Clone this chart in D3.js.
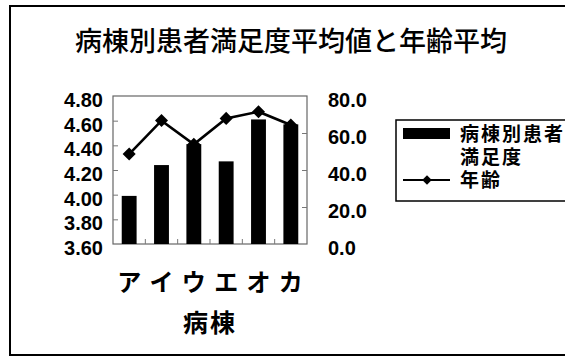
<!DOCTYPE html>
<html>
<head>
<meta charset="utf-8">
<script src="https://cdn.jsdelivr.net/npm/d3@7"></script>
<style>
  html, body { margin: 0; padding: 0; background: #fff; }
  svg { display: block; }
  .num { font-family: "Liberation Sans", Arial, sans-serif; font-size: 20px; fill: #000; font-weight: bold; }
  .jp { font-family: "Noto Sans CJK JP", sans-serif; fill: #000; }
  .legend-text { font-family: "Liberation Sans", "Noto Sans CJK JP", sans-serif; fill: #000; }
</style>
</head>
<body>
<svg id="chart" width="565" height="357"></svg>
<script>
// 病棟ごとの患者満足度（棒・左軸）と年齢平均（折れ線・右軸）
const categories = ["ア", "イ", "ウ", "エ", "オ", "カ"];
const satisfaction = [3.99, 4.24, 4.41, 4.27, 4.61, 4.57];
const ageAverage = [48.6, 66.7, 53.9, 67.9, 71.5, 64.3];
const leftTicks = [4.8, 4.6, 4.4, 4.2, 4.0, 3.8, 3.6];
const rightTicks = [80, 60, 40, 20, 0];

const svg = d3.select("#chart");

const plot = { left: 113, right: 307, top: 96, bottom: 244 };

const x = d3.scaleBand()
  .domain(categories)
  .range([plot.left, plot.right])
  .paddingInner(0.54)
  .paddingOuter(0.27);

const yLeft = d3.scaleLinear().domain([3.6, 4.8]).range([plot.bottom, plot.top]);
const yRight = d3.scaleLinear().domain([0, 80]).range([plot.bottom, plot.top]);

// outer frame (right side runs past the canvas edge)
svg.append("rect")
  .attr("x", 10).attr("y", 6)
  .attr("width", 600).attr("height", 349)
  .attr("fill", "none").attr("stroke", "#000").attr("stroke-width", 2);

// title
svg.append("text")
  .attr("class", "jp")
  .attr("x", 291).attr("y", 39)
  .attr("text-anchor", "middle").attr("dominant-baseline", "central")
  .attr("font-size", 27).attr("font-weight", 500)
  .text("病棟別患者満足度平均値と年齢平均");

// plot area
svg.append("rect")
  .attr("x", plot.left).attr("y", plot.top)
  .attr("width", plot.right - plot.left).attr("height", plot.bottom - plot.top)
  .attr("fill", "#fff").attr("stroke", "#666").attr("stroke-width", 1.2);

// inner tick marks
const leftAxis = d3.axisRight(yLeft).tickValues(leftTicks.slice(1, -1)).tickSize(5).tickFormat("");
svg.append("g").attr("transform", `translate(${plot.left},0)`).call(leftAxis)
  .call(g => g.select(".domain").remove())
  .call(g => g.selectAll("line").attr("stroke", "#777"));

const rightAxis = d3.axisLeft(yRight).tickValues(rightTicks.slice(1, -1)).tickSize(5).tickFormat("");
svg.append("g").attr("transform", `translate(${plot.right},0)`).call(rightAxis)
  .call(g => g.select(".domain").remove())
  .call(g => g.selectAll("line").attr("stroke", "#777"));

const bottomTicks = categories.slice(1).map(c => x(c) - x.step() * x.paddingInner() / 2);
svg.append("g").selectAll("line").data(bottomTicks).join("line")
  .attr("x1", d => d).attr("x2", d => d)
  .attr("y1", plot.bottom).attr("y2", plot.bottom - 5)
  .attr("stroke", "#777");

// bars
svg.append("g").selectAll("rect").data(categories).join("rect")
  .attr("x", d => x(d))
  .attr("y", (d, i) => yLeft(satisfaction[i]))
  .attr("width", x.bandwidth())
  .attr("height", (d, i) => plot.bottom - yLeft(satisfaction[i]))
  .attr("fill", "#000");

// age line
const cx = d => x(d) + x.bandwidth() / 2;
const line = d3.line()
  .x((d, i) => cx(categories[i]))
  .y(d => yRight(d));
svg.append("path").datum(ageAverage)
  .attr("d", line).attr("fill", "none")
  .attr("stroke", "#000").attr("stroke-width", 2.6);

const diamond = d3.symbol().type(d3.symbolSquare).size(85);
svg.append("g").selectAll("path").data(ageAverage).join("path")
  .attr("d", diamond)
  .attr("transform", (d, i) => `translate(${cx(categories[i])},${yRight(d)}) rotate(45)`)
  .attr("fill", "#000");

// axis labels
svg.append("g").selectAll("text").data(leftTicks).join("text")
  .attr("class", "num")
  .attr("x", 103).attr("y", d => yLeft(d) + 4)
  .attr("text-anchor", "end").attr("dominant-baseline", "central")
  .text(d => d.toFixed(2));

svg.append("g").selectAll("text").data(rightTicks).join("text")
  .attr("class", "num")
  .attr("x", 328).attr("y", d => yRight(d) + 4)
  .attr("dominant-baseline", "central")
  .text(d => d.toFixed(1));

svg.append("g").selectAll("text").data(categories).join("text")
  .attr("class", "jp")
  .attr("x", d => cx(d)).attr("y", 280)
  .attr("text-anchor", "middle").attr("dominant-baseline", "central")
  .attr("font-size", 24).attr("font-weight", 700)
  .text(d => d);

svg.append("text")
  .attr("class", "jp")
  .attr("x", 210).attr("y", 321)
  .attr("text-anchor", "middle").attr("dominant-baseline", "central")
  .attr("font-size", 25).attr("font-weight", 700)
  .attr("letter-spacing", 2)
  .text("病棟");

// legend
const lg = svg.append("g");
lg.append("rect")
  .attr("x", 396).attr("y", 120).attr("width", 200).attr("height", 81)
  .attr("fill", "#fff").attr("stroke", "#000").attr("stroke-width", 1.5);
lg.append("rect")
  .attr("x", 403).attr("y", 128).attr("width", 47).attr("height", 11)
  .attr("fill", "#000");

// wrapped series name for the bars
const barLabel = lg.append("text")
  .attr("class", "legend-text")
  .attr("font-size", 19).attr("font-weight", 700)
  .attr("letter-spacing", 2);
barLabel.append("tspan").attr("x", 460).attr("y", 141).text("病棟別患者");
barLabel.append("tspan").attr("x", 460).attr("y", 164).text("満足度");

lg.append("line")
  .attr("x1", 403).attr("x2", 450).attr("y1", 180).attr("y2", 180)
  .attr("stroke", "#000").attr("stroke-width", 2);
lg.append("path")
  .attr("d", d3.symbol().type(d3.symbolSquare).size(45))
  .attr("transform", "translate(427,180) rotate(45)")
  .attr("fill", "#000");
lg.append("text")
  .attr("class", "legend-text")
  .attr("x", 460).attr("y", 187)
  .attr("font-size", 19).attr("font-weight", 700)
  .attr("letter-spacing", 2)
  .text("年齢");
</script>
</body>
</html>
